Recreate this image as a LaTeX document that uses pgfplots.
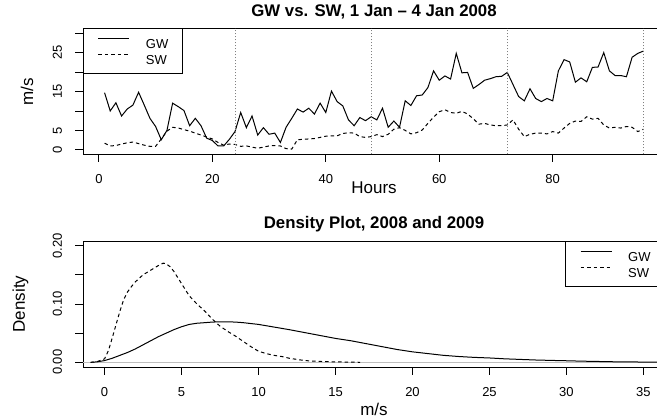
\documentclass[border=0pt]{standalone}
\usepackage{pgfplots}
\pgfplotsset{compat=1.18}
\usepackage{fontspec}
\setmainfont{Liberation Sans}
\newcommand{\ticksize}{\fontsize{13bp}{15bp}\selectfont}
\newcommand{\labsize}{\fontsize{17bp}{19bp}\selectfont}
\newcommand{\titsize}{\fontsize{16.8bp}{18bp}\selectfont\bfseries}
\definecolor{rgray}{HTML}{BEBEBE}
\pgfplotsset{
  rbase/.style={
    scale only axis, width=582bp, height=126bp, anchor=south west,
    axis line style={line width=0.8bp, black},
    tick align=outside, xtick pos=bottom, ytick pos=left,
    major tick length=7.5bp, tick style={line width=0.8bp, black},
    /pgf/number format/assume math mode=true,
    ticklabel style={font=\ticksize},
    xticklabel style={anchor=base, yshift=-21.5bp},
    yticklabel style={rotate=90, anchor=base, yshift=13.5bp},
    label style={font=\labsize},
    xlabel style={at={(axis description cs:0.5,0)}, anchor=base, yshift=-39.5bp},
    title style={at={(axis description cs:0.5,1)}, anchor=base, yshift=6.5bp, font=\titsize},
    legend cell align=left,
    legend image code/.code={\path[draw=none, fill=none] (-15bp,4.6bp) -- (31bp,4.6bp);
      \draw[#1] (0bp,4.6bp) -- (31bp,4.6bp);},
    legend style={draw=black, line width=0.8bp, font=\fontsize{13bp}{15bp}\selectfont,
      inner xsep=0pt, inner ysep=6.5bp, row sep=0pt,
      nodes={inner sep=0pt, text height=13.5bp, text depth=2.5bp},
      /tikz/every odd column/.append style={column sep=16bp}},
  },
  gw/.style={black, line width=1bp},
  sw/.style={black, line width=1bp, dash pattern=on 3.5bp off 3bp},
}
\begin{document}
\begin{tikzpicture}
\useasboundingbox (0,0) rectangle (657bp,419bp);
\begin{axis}[rbase, at={(83bp,264.5bp)},
  xmin=-2.8, xmax=99.8, ymin=-1.2, ymax=31.2,
  xtick={0,20,40,60,80}, ytick={0,5,10,15,20,25,30},
  yticklabels={0,5,,15,,25,},
  xlabel={Hours}, ylabel={m/s},
  ylabel style={at={(axis description cs:-0.0859,0.5)}, anchor=base},
  title={GW vs. SW, 1 Jan -- 4 Jan 2008},
  legend style={at={(axis description cs:0,1)}, anchor=north west},
]
\addplot[gw] coordinates {
(1,14.7)(2,10.0)(3,12.1)(4,8.7)(5,10.5)(6,11.5)(7,14.8)(8,11.5)(9,8.1)(10,6.0)
(11,2.6)(12,5.0)(13,12.0)(14,11.1)(15,10.1)(16,6.2)(17,8.1)(18,6.2)(19,3.0)(20,2.4)
(21,1.0)(22,1.0)(23,2.7)(24,4.7)(25,9.6)(26,5.7)(27,8.7)(28,3.8)(29,5.7)(30,4.0)
(31,4.3)(32,1.9)(33,5.8)(34,8.1)(35,10.5)(36,9.7)(37,10.7)(38,9.2)(39,12.0)(40,9.6)
(41,15.1)(42,12.4)(43,11.3)(44,7.7)(45,6.2)(46,8.3)(47,7.5)(48,8.5)(49,7.7)(50,10.7)
(51,5.8)(52,7.4)(53,5.8)(54,12.6)(55,11.4)(56,13.9)(57,14.1)(58,16.0)(59,20.3)(60,17.9)
(61,19.0)(62,18.2)(63,24.8)(64,19.8)(65,19.9)(66,15.8)(67,16.8)(68,17.9)(69,18.3)(70,18.8)
(71,18.9)(72,19.9)(73,16.8)(74,13.7)(75,12.6)(76,15.7)(77,13.2)(78,12.4)(79,13.2)(80,12.6)
(81,20.3)(82,23.2)(83,22.6)(84,17.4)(85,18.5)(86,17.5)(87,21.2)(88,21.3)(89,25.0)(90,20.3)
(91,19.1)(92,19.1)(93,18.8)(94,23.8)(95,24.8)(96,25.4)
};
\addlegendentry{GW\rule{14bp}{0pt}}
\addplot[sw] coordinates {
(1,1.7)(2,1.0)(3,1.1)(4,1.5)(5,1.8)(6,2.0)(7,1.6)(8,1.2)(9,0.9)(10,0.9)
(11,2.8)(12,4.8)(13,5.8)(14,5.6)(15,5.2)(16,4.8)(17,4.3)(18,3.8)(19,3.3)(20,2.8)
(21,1.9)(22,1.2)(23,1.5)(24,1.4)(25,0.9)(26,1.0)(27,0.7)(28,0.4)(29,0.7)(30,1.0)
(31,1.1)(32,1.0)(33,0.3)(34,0.2)(35,2.6)(36,2.7)(37,2.8)(38,2.9)(39,3.2)(40,3.5)
(41,3.6)(42,3.6)(43,4.2)(44,4.4)(45,4.3)(46,3.4)(47,3.2)(48,3.4)(49,3.9)(50,3.4)
(51,4.0)(52,5.3)(53,5.7)(54,5.0)(55,4.1)(56,4.4)(57,5.1)(58,6.8)(59,8.4)(60,9.8)
(61,10.3)(62,9.6)(63,9.4)(64,9.9)(65,9.2)(66,8.0)(67,6.6)(68,6.8)(69,6.4)(70,6.2)
(71,6.2)(72,6.4)(73,7.7)(74,5.3)(75,3.4)(76,4.0)(77,4.3)(78,4.3)(79,4.1)(80,4.7)
(81,4.3)(82,5.6)(83,6.8)(84,7.4)(85,7.3)(86,8.5)(87,7.9)(88,8.1)(89,6.4)(90,5.6)
(91,5.8)(92,5.6)(93,6.0)(94,5.8)(95,4.7)(96,5.3)
};
\addlegendentry{SW}
\addplot[gray, line width=0.6bp, dash pattern=on 1bp off 2bp, forget plot] coordinates {(24,-1.2)(24,31.2)};
\addplot[gray, line width=0.6bp, dash pattern=on 1bp off 2bp, forget plot] coordinates {(48,-1.2)(48,31.2)};
\addplot[gray, line width=0.6bp, dash pattern=on 1bp off 2bp, forget plot] coordinates {(72,-1.2)(72,31.2)};
\addplot[gray, line width=0.6bp, dash pattern=on 1bp off 2bp, forget plot] coordinates {(96,-1.2)(96,31.2)};
\end{axis}

\begin{axis}[rbase, at={(83bp,52bp)},
  xmin=-1.4, xmax=36.4, ymin=-0.008, ymax=0.208,
  xtick={0,5,...,35}, ytick={0,0.05,0.10,0.15,0.20},
  yticklabels={0.00,,0.10,,0.20},
  xlabel={m/s}, ylabel={Density},
  xlabel style={yshift=-9bp},
  ylabel style={at={(axis description cs:-0.0997,0.5)}, anchor=base},
  title={Density Plot, 2008 and 2009},
  legend style={at={(axis description cs:1,1)}, anchor=north east},
]
\addplot[rgray, line width=0.7bp, forget plot] coordinates {(-1.4,0)(36.4,0)};
\addplot[gw] coordinates {
(-0.9,0)(-0.5,0.0008)(0,0.003)(0.5,0.007)(1,0.012)(1.5,0.017)(2,0.023)(2.5,0.030)
(3,0.037)(3.5,0.044)(4,0.050)(4.5,0.056)(5,0.061)(5.5,0.065)(6,0.067)(6.5,0.068)
(7,0.069)(7.5,0.0695)(8,0.0695)(8.5,0.069)(9,0.068)(9.5,0.0665)(10,0.065)(11,0.0605)
(12,0.056)(13,0.051)(14,0.046)(15,0.041)(16,0.037)(17,0.032)(18,0.027)(19,0.022)
(20,0.018)(21,0.015)(22,0.012)(23,0.010)(24,0.0085)(25,0.0075)(26,0.006)(27,0.005)
(28,0.004)(29,0.0033)(30,0.0027)(31,0.002)(32,0.0015)(33,0.001)(34,0.0007)(35,0.0005)
(36,0.0003)(37,0.0002)
};
\addlegendentry{GW\rule{14bp}{0pt}}
\addplot[sw] coordinates {
(-0.9,0)(-0.5,0.001)(0,0.006)(0.25,0.02)(0.5,0.042)(0.75,0.065)(1,0.088)(1.25,0.108)
(1.5,0.121)(1.75,0.130)(2,0.138)(2.5,0.150)(3,0.158)(3.5,0.166)(3.8,0.170)(4,0.169)
(4.25,0.164)(4.5,0.156)(5,0.135)(5.5,0.114)(6,0.100)(6.5,0.088)(7,0.074)(7.5,0.062)
(8,0.053)(8.5,0.045)(9,0.036)(9.5,0.027)(10,0.019)(10.5,0.015)(11,0.012)(11.5,0.010)
(12,0.007)(12.5,0.005)(13,0.003)(14,0.0015)(15,0.0008)(16,0.0003)(16.6,0.0001)
};
\addlegendentry{SW}
\end{axis}
\end{tikzpicture}
\end{document}
